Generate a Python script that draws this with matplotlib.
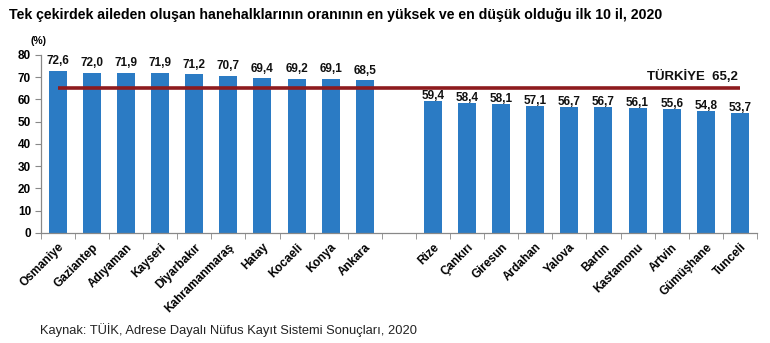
import matplotlib
matplotlib.use("Agg")
import matplotlib.pyplot as plt
import numpy as np

plt.rcParams['font.family'] = ['Liberation Sans', 'DejaVu Sans']

high_provinces = ["Osmaniye", "Gaziantep", "Adıyaman", "Kayseri", "Diyarbakır",
                  "Kahramanmaraş", "Hatay", "Kocaeli", "Konya", "Ankara"]
high_values = [72.6, 72.0, 71.9, 71.9, 71.2, 70.7, 69.4, 69.2, 69.1, 68.5]
low_provinces = ["Rize", "Çankırı", "Giresun", "Ardahan", "Yalova",
                 "Bartın", "Kastamonu", "Artvin", "Gümüşhane", "Tunceli"]
low_values = [59.4, 58.4, 58.1, 57.1, 56.7, 56.7, 56.1, 55.6, 54.8, 53.7]
turkiye_value = 65.2
yticks = [0, 10, 20, 30, 40, 50, 60, 70, 80]

title = "Tek çekirdek aileden oluşan hanehalklarının oranının en yüksek ve en düşük olduğu ilk 10 il, 2020"
source = "Kaynak: TÜİK, Adrese Dayalı Nüfus Kayıt Sistemi Sonuçları, 2020"

bar_color = "#2B7BC4"
line_color = "#8E1B1E"

labels = high_provinces + [""] + low_provinces
values = high_values + [None] + low_values
n = len(labels)
x = np.arange(n)

fig = plt.figure(figsize=(7.7, 3.43), dpi=100)
ax = fig.add_axes([0.053, 0.321, 0.930, 0.519])

bx = [i for i, v in enumerate(values) if v is not None]
bv = [v for v in values if v is not None]
ax.bar(bx, bv, width=0.53, color=bar_color, zorder=2)

for xi, v in zip(bx, bv):
    off = 5 if v > turkiye_value else 1.5
    ax.annotate(f"{v:.1f}".replace(".", ","), (xi, v), xytext=(0, off),
                textcoords="offset points", ha="center", va="baseline",
                fontsize=8.5, fontweight="bold", color="#111111")

ax.plot([x[0], x[-1]], [turkiye_value, turkiye_value], color=line_color,
        lw=2.6, zorder=3, solid_capstyle="butt")
ax.text(x[-1] - 0.05, turkiye_value + 2.2,
        f"TÜRKİYE  {turkiye_value:.1f}".replace(".", ","),
        ha="right", va="bottom", fontsize=9.5, fontweight="bold", color="#111111")

ax.set_xlim(-0.5, n - 0.5)
ax.set_ylim(0, 80)
ax.set_yticks(yticks)
ax.set_yticklabels([str(t) for t in yticks], fontsize=8.5, fontweight="bold")
ax.set_xticks(x)
ax.set_xticklabels(labels, rotation=45, ha="right", rotation_mode="anchor",
                   fontsize=8.5, fontweight="bold")
ax.tick_params(axis="x", which="major", length=0, pad=6)
ax.set_xticks(np.arange(-0.5, n, 1.0), minor=True)
ax.tick_params(axis="x", which="minor", length=4, color="#888888")
ax.tick_params(axis="y", length=4, color="#888888", pad=3)

for s in ["top", "right"]:
    ax.spines[s].set_visible(False)
for s in ["left", "bottom"]:
    ax.spines[s].set_color("#888888")
    ax.spines[s].set_linewidth(0.9)

fig.text(0.012, 0.955, title, fontsize=10.2, fontweight="bold", ha="left", va="center")
fig.text(0.040, 0.880, "(%)", fontsize=7.5, fontweight="bold", ha="left", va="center")
fig.text(0.052, 0.038, source, fontsize=9.3, ha="left", va="center", color="#222222")

fig.savefig("out.png", dpi=100)
